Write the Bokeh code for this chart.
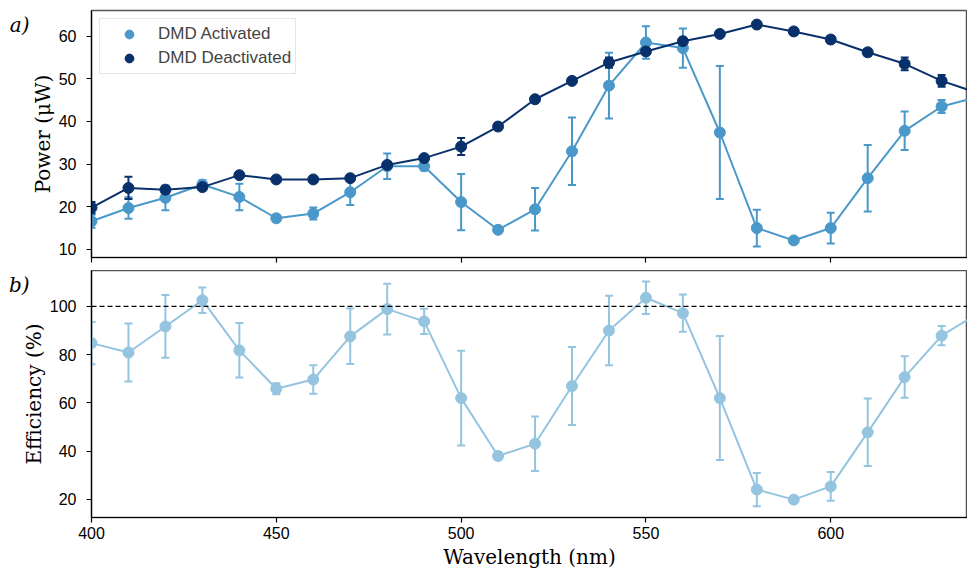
from bokeh.plotting import figure
from bokeh.layouts import column
from bokeh.models import (ColumnDataSource, Whisker, TeeHead, Range1d, FixedTicker,
                          Span, Legend, LegendItem, LinearAxis)
from bokeh.embed import file_html
from bokeh.resources import INLINE

# ---- data ----
wavelength = [400, 410, 420, 430, 440, 450, 460, 470, 480, 490, 500, 510, 520,
              530, 540, 550, 560, 570, 580, 590, 600, 610, 620, 630, 640]
act = [16.6, 19.7, 22.1, 25.2, 22.3, 17.3, 18.4, 23.4, 29.5, 29.5, 21.1, 14.6, 19.4,
       33.0, 48.4, 58.5, 57.2, 37.4, 15.0, 12.1, 15.0, 26.7, 37.8, 43.5, 45.8]
act_err = [1.5, 2.5, 2.9, 1.0, 3.1, 0.4, 1.4, 3.0, 3.0, 1.0, 6.6, 0.5, 5.0,
           7.9, 7.7, 3.8, 4.6, 15.6, 4.3, 0.5, 3.6, 7.8, 4.5, 1.5, 1.5]
deact = [19.8, 24.4, 24.0, 24.6, 27.4, 26.4, 26.4, 26.7, 29.8, 31.4, 34.1, 38.8, 45.2,
         49.5, 53.8, 56.4, 58.8, 60.5, 62.7, 61.1, 59.2, 56.2, 53.5, 49.5, 46.6]
deact_err = [1.3, 2.6, 0.7, 0.6, 0.5, 0.3, 0.3, 0.5, 0.6, 0.5, 2.0, 0.8, 0.7,
             0.5, 1.2, 0.6, 0.8, 0.5, 0.4, 0.8, 0.8, 0.8, 1.5, 1.4, 1.0]
eff = [84.8, 80.9, 91.7, 102.6, 81.8, 65.9, 69.7, 87.6, 98.9, 93.8, 62.0, 38.0, 43.1,
       67.0, 90.0, 103.6, 97.2, 62.0, 24.1, 19.9, 25.4, 47.8, 70.7, 87.9, 97.3]
eff_err = [8.8, 12.0, 13.0, 5.3, 11.3, 2.3, 5.9, 11.5, 10.5, 5.2, 19.6, 1.5, 11.3,
           16.2, 14.4, 6.7, 7.7, 25.7, 6.9, 1.0, 6.0, 14.0, 8.6, 4.0, 4.0]

power_ticks = [10, 20, 30, 40, 50, 60]
eff_ticks = [20, 40, 60, 80, 100]
x_ticks = [400, 450, 500, 550, 600]

C_ACT = "#4a98c9"
C_DEACT = "#08306b"
C_EFF = "#94c4df"

SANS = "Liberation Sans"
SERIF = "DejaVu Serif"

xr = Range1d(400, 637)


def style(p, yticks):
    p.xgrid.visible = False
    p.ygrid.visible = False
    p.outline_line_color = "#555555"
    p.outline_line_width = 1.5
    for ax in (p.xaxis[0], p.yaxis[0]):
        ax.axis_line_color = "black"
        ax.axis_line_width = 1.2
        ax.major_tick_out = 5
        ax.major_tick_in = 0
        ax.minor_tick_out = 0
        ax.minor_tick_in = 0
        ax.major_tick_line_width = 1.2
        ax.major_label_text_font = SANS
        ax.major_label_text_font_size = "16px"
        ax.major_label_text_color = "black"
        ax.axis_label_text_font = SERIF
        ax.axis_label_text_font_size = "20px"
        ax.axis_label_text_font_style = "normal"
        ax.axis_label_text_color = "black"
    p.yaxis[0].ticker = FixedTicker(ticks=yticks)
    p.xaxis[0].ticker = FixedTicker(ticks=x_ticks)
    p.yaxis[0].major_label_standoff = 10
    p.yaxis[0].axis_label_standoff = 1


def errbars(p, x, y, e, color):
    src = ColumnDataSource(dict(x=x, upper=[a + b for a, b in zip(y, e)],
                                lower=[a - b for a, b in zip(y, e)]))
    w = Whisker(base="x", upper="upper", lower="lower", source=src,
                line_color=color, line_width=2,
                upper_head=TeeHead(size=8, line_color=color, line_width=2),
                lower_head=TeeHead(size=8, line_color=color, line_width=2))
    p.add_layout(w)


def panel_label(p, text, yval, standoff):
    # panel tag drawn as the single label of an outer, line-less left axis
    ax = LinearAxis(ticker=FixedTicker(ticks=[yval]),
                    major_label_overrides={yval: text},
                    axis_line_color=None, major_tick_line_color=None,
                    minor_tick_line_color=None, major_tick_out=0, major_tick_in=0,
                    major_label_standoff=standoff,
                    major_label_text_font=SERIF, major_label_text_font_size="20px",
                    major_label_text_font_style="italic", major_label_text_color="black")
    p.add_layout(ax, "left")


# ---- top panel ----
p1 = figure(frame_width=876, frame_height=247, x_range=xr, y_range=Range1d(8.1, 66.0),
            output_backend="svg", toolbar_location=None,
            min_border_left=91, min_border_right=0, min_border_top=10, min_border_bottom=13)
style(p1, power_ticks)
p1.xaxis[0].major_label_text_font_size = "0px"
p1.xaxis[0].major_label_overrides = {t: "" for t in x_ticks}
p1.xaxis[0].major_label_standoff = 0
p1.yaxis[0].axis_label = "Power (μW)"

errbars(p1, wavelength, act, act_err, C_ACT)
p1.line(wavelength, act, line_color=C_ACT, line_width=2)
s_act = p1.scatter(wavelength, act, size=11, fill_color=C_ACT, line_color=C_ACT)
errbars(p1, wavelength, deact, deact_err, C_DEACT)
p1.line(wavelength, deact, line_color=C_DEACT, line_width=2)
s_deact = p1.scatter(wavelength, deact, size=11, fill_color=C_DEACT, line_color=C_DEACT)

legend = Legend(items=[LegendItem(label="DMD Activated", renderers=[s_act]),
                       LegendItem(label="DMD Deactivated", renderers=[s_deact])],
                location="top_left", margin=8, padding=4, spacing=2,
                glyph_width=50, glyph_height=22, label_height=22, label_standoff=4,
                label_text_font=SANS, label_text_font_size="17px",
                border_line_color="#cccccc", border_line_width=1,
                background_fill_alpha=0.8)
p1.add_layout(legend, "center")
panel_label(p1, "a)", 62.5, -2)

# ---- bottom panel ----
p2 = figure(frame_width=876, frame_height=247, x_range=xr, y_range=Range1d(12.5, 114.9),
            output_backend="svg", toolbar_location=None,
            min_border_left=91, min_border_right=0, min_border_top=0, min_border_bottom=20)
style(p2, eff_ticks)
p2.xaxis[0].axis_label = "Wavelength (nm)"
p2.xaxis[0].major_label_standoff = 4
p2.xaxis[0].axis_label_standoff = 3
p2.yaxis[0].axis_label = "Efficiency (%)"

p2.add_layout(Span(location=100, dimension="width", line_color="black",
                   line_dash="5 3", line_width=1.3))
errbars(p2, wavelength, eff, eff_err, C_EFF)
p2.line(wavelength, eff, line_color=C_EFF, line_width=2)
p2.scatter(wavelength, eff, size=11, fill_color=C_EFF, line_color=C_EFF)
panel_label(p2, "b)", 110.8, -11)

layout = column(p1, p2, spacing=0)
open("out.html", "w").write(file_html(layout, INLINE))
